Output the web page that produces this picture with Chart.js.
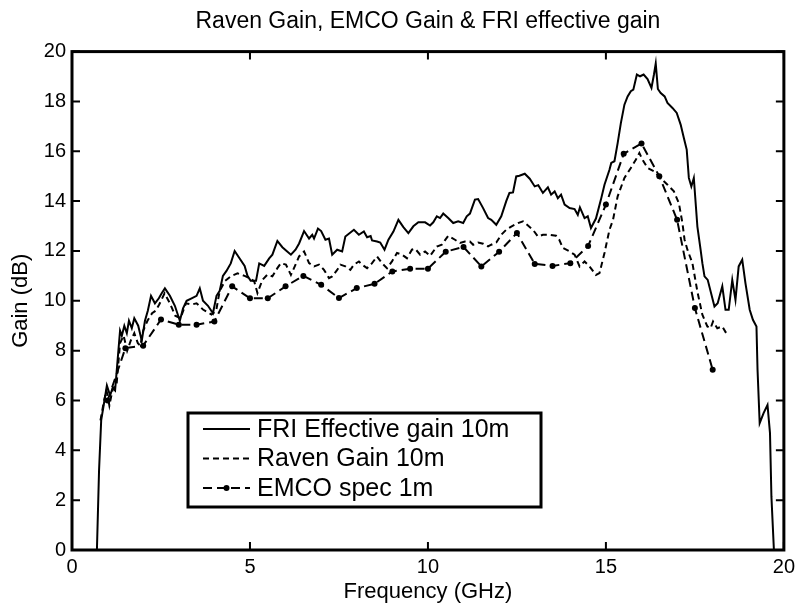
<!DOCTYPE html>
<html>
<head>
<meta charset="utf-8">
<title>Raven Gain, EMCO Gain & FRI effective gain</title>
<script src="https://cdn.jsdelivr.net/npm/chart.js@4/dist/chart.umd.min.js"></script>
<style>
  html, body { margin: 0; padding: 0; background: #fff; }
  #chart { display: block; }
</style>
</head>
<body>
<canvas id="chart" width="800" height="610"></canvas>
<script>
// FRI effective gain 10m (solid)
var friFreq = [0.70, 0.76, 0.82, 0.90, 0.98, 1.07, 1.14, 1.21, 1.28, 1.35, 1.40, 1.47, 1.54, 1.60, 1.68, 1.75, 1.86, 1.96,
    2.05, 2.13, 2.22, 2.33, 2.44, 2.52, 2.61, 2.75, 2.89, 3.03, 3.12, 3.22, 3.36, 3.50, 3.59, 3.68, 3.82, 3.96,
    4.06, 4.15, 4.24, 4.34, 4.46, 4.57, 4.71, 4.85, 4.93, 5.02, 5.17, 5.26, 5.40, 5.54, 5.63, 5.77, 5.91,
    6.03, 6.15, 6.28, 6.38, 6.52, 6.66, 6.75, 6.80, 6.91, 7.00, 7.12, 7.22, 7.31, 7.45, 7.59, 7.68, 7.92,
    8.06, 8.20, 8.29, 8.39, 8.43, 8.57, 8.66, 8.78, 8.89, 9.03, 9.17, 9.31, 9.45, 9.59, 9.73, 9.92,
    10.06, 10.15, 10.25, 10.34, 10.43, 10.57, 10.71, 10.85, 10.99, 11.09, 11.18, 11.32, 11.41, 11.55, 11.69, 11.78, 11.92,
    12.06, 12.20, 12.29, 12.39, 12.48, 12.57, 12.72, 12.86, 13.00, 13.10, 13.23, 13.37, 13.46, 13.56, 13.65, 13.74, 13.84, 13.98,
    14.12, 14.21, 14.27, 14.40, 14.49, 14.58, 14.72, 14.86, 14.96, 15.10, 15.15, 15.24, 15.33, 15.42, 15.52, 15.61, 15.70, 15.77, 15.87, 15.96,
    16.06, 16.17, 16.28, 16.35, 16.40, 16.46, 16.54, 16.65, 16.73, 16.87, 16.99, 17.10, 17.19, 17.27, 17.33, 17.40, 17.47, 17.57, 17.66, 17.71, 17.77, 17.86,
    18.05, 18.14, 18.27, 18.36, 18.45, 18.55, 18.64, 18.73, 18.83, 18.92, 19.04, 19.13, 19.23, 19.26, 19.32, 19.43, 19.54, 19.61, 19.65, 19.72];
var friGain = [0, 3.2, 5.2, 5.9, 6.6, 6.2, 6.5, 6.4, 7.6, 8.8, 8.6, 9.0, 8.7, 9.2, 8.9, 9.3, 9.0, 8.4,
    9.2, 9.6, 10.2, 9.9, 10.1, 10.3, 10.5, 10.2, 9.8, 9.2, 9.7, 10.0, 10.1, 10.2, 10.5, 10.0, 9.8, 9.5,
    10.2, 10.4, 11.0, 11.2, 11.5, 12.0, 11.7, 11.4, 11.0, 10.8, 10.8, 11.5, 11.4, 11.7, 11.85, 12.4, 12.15,
    12.0, 11.85, 12.05, 12.3, 12.8, 12.5, 12.65, 12.5, 12.9, 12.8, 12.45, 12.5, 11.85, 12.05, 11.98, 12.58, 12.85,
    12.65, 12.78, 12.55, 12.6, 12.42, 12.38, 12.34, 12.05, 12.45, 12.78, 13.25, 12.96, 12.72, 12.99, 13.15, 13.15,
    13.02, 13.15, 13.39, 13.32, 13.5, 13.32, 13.12, 13.19, 13.12, 13.39, 13.5, 14.06, 14.08, 13.72, 13.32, 13.25, 13.05,
    13.39, 14.0, 14.33, 14.35, 14.99, 15.02, 15.1, 14.9, 14.59, 14.64, 14.33, 14.55, 14.26, 14.39, 14.12, 14.26, 13.86, 13.72,
    13.68, 13.45, 13.75, 13.32, 13.39, 12.92, 13.3, 14.06, 14.66, 15.26, 15.53, 15.6, 16.33, 17.13, 17.87, 18.2, 18.41, 18.47, 19.08, 19.01,
    19.08, 18.9, 18.54, 19.08, 19.52, 18.5, 18.34, 18.2, 17.94, 17.74, 17.54, 17.07, 16.53, 16.07, 14.93, 14.59, 14.93, 12.98, 12.05, 11.51, 10.98, 10.84,
    9.77, 9.9, 10.58, 9.64, 9.64, 10.84, 10.04, 11.38, 11.65, 10.71, 9.64, 9.24, 8.97, 7.23, 5.09, 5.49, 5.82, 4.69, 2.14, 0];

// Raven Gain 10m (dashed)
var ravenFreq = [0.80, 0.90, 0.97, 1.05, 1.15, 1.25, 1.35, 1.45, 1.55, 1.65, 1.75, 1.85, 1.92, 2.00, 2.12, 2.25, 2.35, 2.45,
    2.60, 2.75, 2.90, 3.05, 3.20, 3.36, 3.50, 3.68, 3.92, 4.05, 4.15, 4.30, 4.48, 4.65, 4.85, 5.00, 5.12, 5.21,
    5.35, 5.49, 5.63, 5.77, 5.87, 6.01, 6.15, 6.28, 6.38, 6.52, 6.66, 6.80, 6.94, 7.08, 7.22, 7.31, 7.45, 7.54,
    7.68, 7.82, 7.92, 8.06, 8.15, 8.29, 8.43, 8.57, 8.71, 8.85, 8.99, 9.13, 9.27, 9.41, 9.55, 9.64, 9.78, 9.92,
    10.06, 10.25, 10.39, 10.57, 10.76, 10.90, 11.04, 11.18, 11.27, 11.41, 11.55, 11.69, 11.78, 11.92, 12.06, 12.20,
    12.34, 12.53, 12.67, 12.81, 12.95, 13.09, 13.23, 13.42, 13.60, 13.69, 13.79, 13.98, 14.12, 14.26, 14.40, 14.54,
    14.72, 14.82, 14.96, 15.10, 15.20, 15.33, 15.52, 15.70, 15.84, 15.94, 16.03, 16.17, 16.36, 16.49, 16.73, 16.91,
    17.05, 17.15, 17.21, 17.29, 17.43, 17.57, 17.71, 17.85, 17.94, 18.01, 18.13, 18.27, 18.41];
var ravenGain = [5.2, 6.0, 6.4, 5.8, 6.5, 6.6, 8.3, 8.6, 8.0, 8.4, 8.7, 8.3, 8.2, 8.8, 9.2, 9.5, 9.6, 9.85,
    10.3, 9.9, 9.4, 9.3, 9.9, 9.85, 9.9, 9.65, 9.45, 9.6, 10.4, 10.8, 11.0, 11.1, 11.0, 10.9, 10.78, 10.31,
    10.84, 11.05, 10.98, 11.31, 11.51, 11.45, 11.04, 11.45, 11.78, 11.98, 11.51, 11.38, 11.45, 11.24, 10.91, 10.98, 11.24, 11.45,
    11.38, 11.24, 11.45, 11.58, 11.45, 11.31, 11.51, 11.78, 11.51, 11.31, 11.58, 11.92, 11.85, 11.71, 12.05, 12.09, 11.85, 11.98,
    11.8, 12.18, 12.25, 12.61, 12.45, 12.32, 12.38, 12.38, 12.25, 12.34, 12.29, 12.18, 12.25, 12.34, 12.65, 12.85,
    12.98, 13.12, 13.19, 13.02, 12.85, 12.58, 12.65, 12.65, 12.61, 12.45, 12.12, 11.98, 11.85, 11.38, 11.58, 11.38,
    11.04, 11.11, 11.92, 12.85, 13.25, 14.19, 14.93, 15.33, 15.66, 15.93, 15.66, 15.33, 15.19, 14.99, 14.66, 14.39,
    13.92, 13.12, 12.45, 12.05, 11.51, 10.37, 9.44, 8.97, 8.9, 9.17, 8.9, 8.97, 8.63];

// EMCO spec 1m (dashed with markers)
var emcoFreq = [1.0, 1.5, 2.0, 2.5, 3.0, 3.5, 4.0, 4.5, 5.0, 5.5, 6.0, 6.5, 7.0, 7.5, 8.0, 8.5, 9.0, 9.5,
    10.0, 10.5, 11.0, 11.5, 12.0, 12.5, 13.0, 13.5, 14.0, 14.5, 15.0, 15.5, 16.0, 16.5, 17.0, 17.5, 18.0];
var emcoGain = [6.0, 8.1, 8.2, 9.25, 9.04, 9.04, 9.17, 10.58, 10.1, 10.1, 10.58, 11.0, 10.64, 10.11, 10.51, 10.68, 11.18, 11.29,
    11.29, 11.97, 12.16, 11.38, 11.97, 12.72, 11.48, 11.4, 11.51, 12.2, 13.86, 15.9, 16.31, 15.0, 13.25, 9.71, 7.23];

var xTicks = { min: 0, max: 20, step: 5 };
var yTicks = { min: 0, max: 20, step: 2 };

var seriesNames = ['FRI Effective gain 10m', 'Raven Gain 10m', 'EMCO spec 1m'];
var fontFamily = '"Liberation Sans", Arial, Helvetica, sans-serif';

var toPoints = function (xs, ys) {
    return xs.map(function (x, i) { return { x: x, y: ys[i] }; });
};

// MATLAB style box with inward ticks on all four sides
var matlabAxes = {
    id: 'matlabAxes',
    afterDatasetsDraw: function (chart) {
        var ctx = chart.ctx;
        var a = chart.chartArea;
        var xs = chart.scales.x;
        var ys = chart.scales.y;
        ctx.save();
        ctx.strokeStyle = '#000';
        ctx.lineWidth = 2;
        ctx.beginPath();
        xs.ticks.forEach(function (t) {
            var px = xs.getPixelForValue(t.value);
            ctx.moveTo(px, a.bottom);
            ctx.lineTo(px, a.bottom - 8);
            ctx.moveTo(px, a.top);
            ctx.lineTo(px, a.top + 8);
        });
        ys.ticks.forEach(function (t) {
            var py = ys.getPixelForValue(t.value);
            ctx.moveTo(a.left, py);
            ctx.lineTo(a.left + 8, py);
            ctx.moveTo(a.right, py);
            ctx.lineTo(a.right - 8, py);
        });
        ctx.stroke();
        ctx.lineWidth = 3;
        ctx.strokeRect(a.left, a.top, a.right - a.left, a.bottom - a.top);
        ctx.restore();
    }
};

// legend box inside the axes, like MATLAB's
var boxLegend = {
    id: 'boxLegend',
    afterDraw: function (chart) {
        var ctx = chart.ctx;
        var left = 188, top = 413, w = 353, h = 94;
        ctx.save();
        ctx.fillStyle = '#fff';
        ctx.fillRect(left, top, w, h);
        ctx.strokeStyle = '#000';
        ctx.lineWidth = 3;
        ctx.strokeRect(left, top, w, h);
        ctx.font = '25px ' + fontFamily;
        ctx.textBaseline = 'middle';
        ctx.fillStyle = '#000';
        chart.data.datasets.forEach(function (ds, i) {
            var y = top + 16 + i * 29.5;
            ctx.lineWidth = ds.borderWidth;
            ctx.setLineDash(ds.borderDash || []);
            ctx.beginPath();
            ctx.moveTo(left + 15, y);
            ctx.lineTo(left + 62, y);
            ctx.stroke();
            ctx.setLineDash([]);
            if (ds.pointRadius > 0) {
                ctx.beginPath();
                ctx.arc(left + 38.5, y, ds.pointRadius, 0, Math.PI * 2);
                ctx.fill();
            }
            ctx.fillText(ds.label, left + 69, y + 1);
        });
        ctx.restore();
    }
};

Chart.defaults.font.family = fontFamily;
Chart.defaults.color = '#000';

var chart = new Chart(document.getElementById('chart').getContext('2d'), {
    type: 'line',
    data: {
        datasets: [{
            label: seriesNames[0],
            data: toPoints(friFreq, friGain),
            borderColor: '#000',
            borderWidth: 2,
            pointRadius: 0,
            tension: 0
        }, {
            label: seriesNames[1],
            data: toPoints(ravenFreq, ravenGain),
            borderColor: '#000',
            borderWidth: 2,
            borderDash: [6, 4],
            pointRadius: 0,
            tension: 0
        }, {
            label: seriesNames[2],
            data: toPoints(emcoFreq, emcoGain),
            borderColor: '#000',
            backgroundColor: '#000',
            borderWidth: 2,
            borderDash: [9, 5],
            pointRadius: 3,
            pointBorderWidth: 0,
            pointBackgroundColor: '#000',
            tension: 0
        }]
    },
    options: {
        responsive: false,
        animation: false,
        devicePixelRatio: 1,
        layout: { padding: { top: 0, right: 13, bottom: 0, left: 0 } },
        plugins: {
            legend: { display: false },
            tooltip: { enabled: false },
            title: {
                display: true,
                fullSize: false,
                text: 'Raven Gain, EMCO Gain & FRI effective gain',
                font: { size: 23, weight: 'normal' },
                padding: { top: 8, bottom: 16 }
            }
        },
        scales: {
            x: {
                type: 'linear',
                min: xTicks.min,
                max: xTicks.max,
                ticks: { stepSize: xTicks.step, padding: 5, font: { size: 20 } },
                grid: { display: false, drawTicks: false },
                border: { display: false },
                title: { display: true, text: 'Frequency (GHz)', font: { size: 22 }, padding: { top: 0, bottom: 5 } },
                afterFit: function (s) { s.height = 60; }
            },
            y: {
                type: 'linear',
                min: yTicks.min,
                max: yTicks.max,
                ticks: { stepSize: yTicks.step, padding: 6, font: { size: 20 } },
                grid: { display: false, drawTicks: false },
                border: { display: false },
                title: { display: true, text: 'Gain (dB)', font: { size: 22 }, padding: { top: 8, bottom: 0 } },
                afterFit: function (s) { s.width = 72; }
            }
        }
    },
    plugins: [matlabAxes, boxLegend]
});
</script>
</body>
</html>
